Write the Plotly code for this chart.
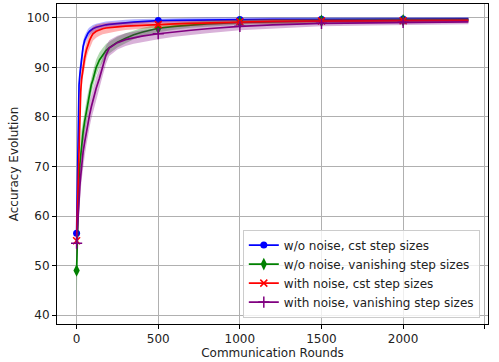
import plotly.graph_objects as go

rounds = [0, 5, 10, 15, 20, 25, 30, 40, 50, 60, 70, 80, 90, 100, 120, 140, 160, 180, 200, 250,
          300, 350, 400, 500, 600, 700, 800, 1000, 1200, 1500, 1800, 2000, 2200, 2400]

blue_mean = [56.5, 67, 80, 86.5, 88.5, 90.2, 92, 94.2, 95.5, 96.3, 96.9, 97.3, 97.6, 97.8, 98.1, 98.3, 98.45, 98.6, 98.7, 98.9,
             99.05, 99.15, 99.25, 99.45, 99.5, 99.55, 99.6, 99.65, 99.7, 99.72, 99.75, 99.77, 99.8, 99.8]
blue_std = [3, 3, 3, 2.5, 2, 1.8, 1.5, 1.2, 1.0, 0.9, 0.85, 0.8, 0.8, 0.75, 0.7, 0.7, 0.65, 0.65, 0.6, 0.6,
            0.55, 0.55, 0.5, 0.5, 0.5, 0.45, 0.45, 0.45, 0.4, 0.4, 0.4, 0.4, 0.4, 0.4]

green_mean = [49, 56, 63, 67.5, 70.5, 72.5, 74.5, 77, 79.2, 81, 83, 84.5, 86.5, 87.5, 90, 91.5, 92.5, 93.4, 94.0, 95.1,
              95.9, 96.6, 97.1, 97.9, 98.3, 98.6, 98.8, 99.1, 99.25, 99.4, 99.45, 99.5, 99.5, 99.55]
green_std = [8, 5, 4, 3.5, 3, 3, 2.8, 2.5, 2.3, 2.2, 2.0, 1.9, 1.8, 1.7, 1.6, 1.5, 1.4, 1.3, 1.2, 1.1,
             1.0, 0.9, 0.85, 0.8, 0.7, 0.6, 0.6, 0.5, 0.5, 0.45, 0.4, 0.4, 0.4, 0.4]

red_mean = [55, 62, 68, 76, 81, 85, 87.5, 90.2, 92, 93.5, 94.6, 95.5, 96.2, 96.8, 97.3, 97.6, 97.8, 97.95, 98.05, 98.2,
            98.35, 98.45, 98.5, 98.65, 98.8, 98.9, 99.0, 99.2, 99.3, 99.35, 99.4, 99.4, 99.45, 99.5]
red_std = [3, 3, 3, 3, 2.8, 2.5, 2.3, 2.0, 1.8, 1.7, 1.6, 1.5, 1.5, 1.4, 1.3, 1.2, 1.1, 1.0, 1.0, 0.9,
           0.8, 0.75, 0.7, 0.6, 0.55, 0.5, 0.5, 0.45, 0.45, 0.4, 0.4, 0.4, 0.4, 0.4]

purple_mean = [54.5, 58, 61, 64, 66, 68, 70, 73, 75, 77, 79, 80.5, 82, 83.5, 85.8, 87.8, 90.2, 92.5, 93.9, 95.0,
               95.6, 96.0, 96.3, 96.8, 97.2, 97.5, 97.8, 98.3, 98.6, 98.9, 99.0, 99.1, 99.15, 99.2]
purple_std = [4, 4, 3.5, 3.5, 3.2, 3, 3, 3, 2.8, 2.7, 2.6, 2.5, 2.4, 2.3, 2.2, 2.0, 1.9, 1.8, 1.6, 1.4,
              1.3, 1.2, 1.2, 1.1, 1.0, 0.9, 0.9, 0.8, 0.7, 0.6, 0.55, 0.5, 0.5, 0.5]

marker_rounds = [0, 500, 1000, 1500, 2000]

series = [
    ("w/o noise, cst step sizes", blue_mean, blue_std, "#0000ff", "rgba(0,0,255,0.3)", "circle", 7),
    ("w/o noise, vanishing step sizes", green_mean, green_std, "#008000", "rgba(0,128,0,0.3)", "diamond-tall", 9),
    ("with noise, cst step sizes", red_mean, red_std, "#ff0000", "rgba(255,0,0,0.3)", "x-thin", 7),
    ("with noise, vanishing step sizes", purple_mean, purple_std, "#800080", "rgba(128,0,128,0.3)", "cross-thin", 8),
]

fig = go.Figure()
for name, mean, std, col, fcol, sym, ms in series:
    upper = [m + s for m, s in zip(mean, std)]
    lower = [m - s for m, s in zip(mean, std)]
    fig.add_trace(go.Scatter(x=rounds + rounds[::-1], y=upper + lower[::-1], fill="toself",
                             fillcolor=fcol, line=dict(width=0), mode="lines",
                             showlegend=False, hoverinfo="skip"))
    fig.add_trace(go.Scatter(x=rounds, y=mean, mode="lines", line=dict(color=col, width=1.7),
                             showlegend=False))
    mx = [r for r in rounds if r in marker_rounds]
    my = [m for r, m in zip(rounds, mean) if r in marker_rounds]
    mk = dict(symbol=sym, size=ms, color=col, line=dict(color=col, width=1.5 if "thin" in sym else 0))
    fig.add_trace(go.Scatter(x=mx, y=my, mode="markers", marker=mk, showlegend=False))
    fig.add_trace(go.Scatter(x=[None], y=[None], mode="lines+markers", name=name,
                             line=dict(color=col, width=1.7), marker=mk))

axis_common = dict(showline=True, linecolor="black", linewidth=1, mirror=True,
                   ticks="outside", ticklen=4, tickcolor="black", automargin=False,
                   showgrid=True, gridcolor="#b0b0b0", gridwidth=1, zeroline=False,
                   tickfont=dict(family="DejaVu Sans", size=12, color="#222222"))

fig.update_layout(
    width=499, height=362,
    margin=dict(l=57, r=11, t=4, b=38),
    plot_bgcolor="white", paper_bgcolor="white",
    font=dict(family="DejaVu Sans", size=12, color="#222222"),
    xaxis=dict(range=[-120, 2520], tickvals=[0, 500, 1000, 1500, 2000, 2500],
               title=dict(text="Communication Rounds", font=dict(size=12), standoff=2), **axis_common),
    yaxis=dict(range=[38.2, 102.8], tickvals=[40, 50, 60, 70, 80, 90, 100],
               title=dict(text="Accuracy Evolution", font=dict(size=12), standoff=5), **axis_common),
    legend=dict(x=0.981, y=0.02, xanchor="right", yanchor="bottom",
                bgcolor="rgba(255,255,255,0.8)", bordercolor="#cccccc", borderwidth=1,
                font=dict(family="DejaVu Sans", size=12), tracegroupgap=0, itemwidth=30),
    showlegend=True,
)

fig.write_html("out.html")
